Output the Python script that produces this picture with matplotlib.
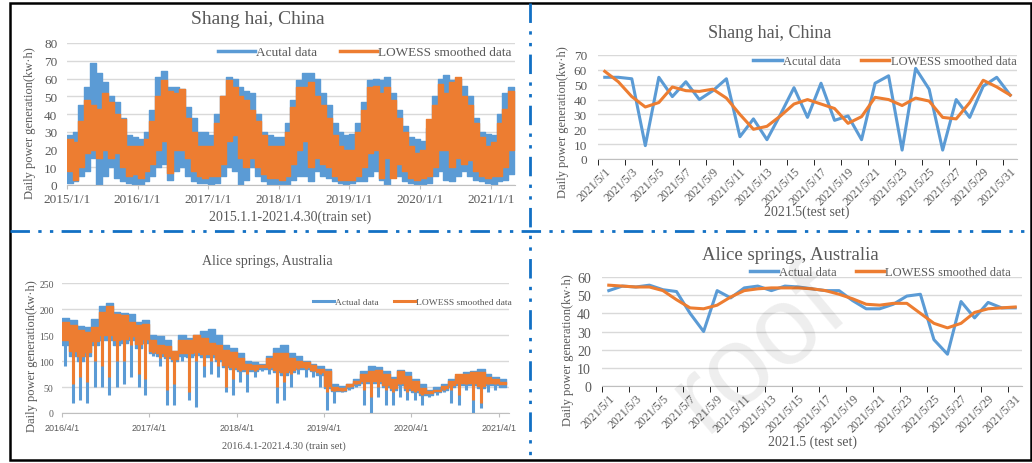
import numpy as np
import pandas as pd
import matplotlib
matplotlib.use('Agg')
import matplotlib.pyplot as plt
import matplotlib.dates as mdates
from matplotlib.lines import Line2D
from matplotlib.patches import Rectangle

W, H = 1032, 464
BLUE = '#5b9bd5'
ORANGE = '#ed7d31'
GRAY = '#595959'
GRID = '#d9d9d9'
SEP = '#1270c4'

# ---- Shanghai train set, monthly high / low (Jan 2015 - Apr 2021)
sh_blue_high = [28, 30, 45, 55, 69, 63, 58, 50, 47, 38, 28, 27,
                26, 30, 42, 61, 64, 55, 55, 54, 44, 38, 30, 30,
                28, 40, 50, 61, 60, 55, 53, 52, 40, 30, 28, 27,
                27, 35, 48, 59, 63, 63, 60, 52, 45, 35, 30, 28,
                29, 35, 47, 59, 60, 59, 61, 52, 42, 33, 27, 26,
                25, 32, 50, 60, 62, 59, 60, 56, 50, 38, 30, 29,
                28, 40, 52, 55]
sh_blue_low = [1, 2, 5, 8, 15, 0, 5, 10, 4, 2, 1, 0,
               0, 2, 5, 10, 12, 3, 8, 10, 5, 2, 1, 1,
               0, 1, 5, 10, 8, 0, 3, 10, 5, 2, 0, 0,
               0, 0, 3, 5, 5, 2, 8, 5, 4, 2, 1, 0,
               1, 2, 2, 5, 8, 3, 0, 5, 5, 2, 1, 0,
               0, 1, 5, 8, 3, 2, 5, 8, 5, 3, 2, 1,
               0, 2, 3, 6]
sh_orange_high = [26, 24, 36, 48, 45, 43, 52, 47, 40, 37, 22, 22,
                  22, 26, 36, 50, 59, 53, 52, 54, 38, 30, 22, 22,
                  22, 35, 50, 59, 55, 50, 48, 42, 36, 28, 22, 22,
                  22, 30, 44, 55, 55, 58, 50, 45, 38, 28, 22, 20,
                  20, 30, 42, 55, 56, 52, 55, 48, 38, 30, 22, 18,
                  20, 37, 45, 57, 52, 58, 61, 50, 45, 35, 27, 22,
                  24, 35, 43, 53]
sh_orange_low = [8, 3, 10, 18, 20, 15, 20, 15, 18, 10, 5, 6,
                 4, 8, 12, 20, 25, 7, 20, 20, 15, 8, 5, 4,
                 5, 5, 12, 25, 28, 15, 10, 15, 10, 6, 4, 4,
                 3, 5, 12, 20, 25, 10, 15, 12, 10, 5, 3, 3,
                 3, 5, 10, 18, 20, 4, 15, 4, 12, 8, 4, 3,
                 4, 5, 10, 20, 20, 10, 15, 12, 14, 8, 5, 4,
                 5, 5, 10, 20]

# ---- Alice Springs train set, monthly values (Apr 2016 - Apr 2021)
# high = top of band, floor = usual bottom of band, low = deepest dip of the month
as_blue_high = [182, 178, 168, 165, 180, 205, 212, 195, 192,
                190, 175, 178, 150, 148, 140, 120, 150, 145, 150, 158, 162,
                150, 130, 125, 115, 100, 98, 95, 110, 125, 130, 115, 110,
                100, 95, 90, 85, 55, 52, 55, 65, 80, 90, 88, 80,
                70, 82, 78, 65, 55, 45, 50, 55, 65, 72, 78, 80,
                85, 75, 70, 65]
as_blue_floor = [130, 110, 100, 110, 130, 140, 140, 130, 135,
                 140, 125, 135, 115, 110, 105, 100, 110, 108, 112, 108, 108,
                 100, 88, 84, 80, 80, 80, 84, 84, 78, 74, 78, 84,
                 84, 80, 74, 48, 42, 42, 48, 54, 58, 58, 58, 50,
                 44, 54, 44, 40, 34, 34, 40, 44, 50, 54, 54, 54,
                 48, 54, 54, 50]
as_blue_low = [90, 20, 25, 20, 50, 50, 35, 50, 55,
               70, 50, 35, 110, 90, 15, 15, 100, 25, 12, 70, 75,
               70, 40, 35, 60, 40, 70, 80, 75, 20, 25, 50, 75,
               70, 70, 50, 5, 20, 40, 45, 50, 15, 0, 30, 15,
               15, 30, 25, 25, 15, 30, 35, 40, 20, 15, 45, 0,
               10, 40, 45, 50]
as_orange_high = [175, 170, 160, 155, 165, 195, 205, 190, 188,
                  175, 170, 172, 140, 130, 128, 120, 140, 140, 150, 145, 135,
                  130, 122, 118, 105, 95, 92, 92, 105, 115, 115, 105, 100,
                  98, 92, 85, 80, 50, 48, 55, 62, 75, 80, 82, 75,
                  65, 80, 72, 62, 48, 42, 45, 52, 62, 75, 75, 78,
                  78, 70, 65, 60]
as_orange_floor = [140, 120, 110, 118, 138, 150, 150, 140, 142,
                   148, 132, 142, 120, 115, 110, 104, 116, 115, 118, 114, 114,
                   104, 92, 88, 84, 84, 84, 88, 88, 82, 78, 82, 88,
                   88, 82, 78, 52, 45, 45, 52, 58, 62, 62, 62, 54,
                   48, 58, 48, 44, 38, 38, 42, 48, 54, 58, 58, 58,
                   52, 58, 58, 55]
as_orange_low = [140, 55, 70, 60, 100, 90, 70, 100, 100,
                 130, 75, 65, 115, 105, 45, 55, 115, 40, 100, 90, 100,
                 90, 50, 65, 80, 75, 80, 88, 85, 50, 60, 75, 85,
                 85, 80, 75, 40, 42, 42, 50, 55, 45, 30, 50, 45,
                 40, 55, 40, 40, 35, 38, 42, 45, 45, 35, 55, 25,
                 20, 55, 55, 55]

# ---- May 2021 test set
test_labels = ['2021/5/%d' % d for d in range(1, 32, 2)]
sh_test_actual = [55, 55, 54, 9, 55, 42, 52, 40, 46, 54, 15, 27, 13, 30, 48, 28,
                  51, 26, 29, 13, 51, 56, 6, 61, 47, 6, 40, 28, 49, 55, 43]
sh_test_lowess = [59, 52, 42, 35, 38, 48.5, 46, 45.5, 47, 41, 30, 20, 22, 29, 37, 40,
                  37, 34, 24, 28.5, 41.5, 40, 36, 41, 39, 28, 27, 38, 53, 48.5, 43]
as_test_actual = [52.5, 55, 54.5, 55.5, 53, 52, 40, 30, 52.5, 48.5, 54, 55, 52.5, 55, 54.5, 53.5,
                  52.5, 52.5, 47, 42.5, 42.5, 45, 49.5, 50.5, 25.5, 17.5, 46.5, 37.5, 46, 43, 43]
as_test_lowess = [55.5, 55, 54.5, 54.5, 52.5, 47.5, 43, 42.5, 44.5, 49, 52.5, 53.5, 54, 54, 54, 53.5,
                  52.5, 50.5, 48, 45, 44.5, 45.5, 45.5, 40, 34.5, 32, 34.5, 40.5, 42.5, 43, 43.5]

plt.rcParams['font.family'] = 'Liberation Serif'
fig = plt.figure(figsize=(W / 100, H / 100), dpi=100)


def px_axes(x0, y0, x1, y1):
    return fig.add_axes([x0 / W, 1 - y1 / H, (x1 - x0) / W, (y1 - y0) / H])


def style_axes(ax, ymax, ystep, yfs, ypad):
    ax.set_ylim(0, ymax)
    ax.set_yticks(np.arange(0, ymax + 1, ystep))
    ax.grid(axis='y', color=GRID, lw=1)
    ax.set_axisbelow(True)
    for s in ['top', 'right', 'left']:
        ax.spines[s].set_visible(False)
    ax.spines['bottom'].set_color('#bfbfbf')
    ax.tick_params(axis='y', length=0, pad=ypad, labelsize=yfs, labelcolor=GRAY)
    ax.tick_params(axis='x', colors='#bfbfbf', labelcolor=GRAY)


def band(ax, start, lows, highs, color):
    # monthly band drawn as steps, closed at the start of the following month
    edges = pd.date_range(start, periods=len(highs) + 1, freq='MS')
    lo = np.append(lows, lows[-1])
    hi = np.append(highs, highs[-1])
    ax.fill_between(edges, lo, hi, step='post', color=color, lw=1.0, edgecolor=color)


def dips(ax, start, floors, lows, color, lw):
    mids = pd.date_range(start, periods=len(lows), freq='MS') + pd.Timedelta(days=14)
    ax.vlines(mids, lows, floors, color=color, lw=lw)


def add_legend(labels, x, y, fs, hl, cs, lw, ax):
    handles = [Line2D([], [], color=BLUE, lw=lw), Line2D([], [], color=ORANGE, lw=lw)]
    ax.legend(handles, labels, ncol=2, loc='center left', bbox_to_anchor=(x / W, 1 - y / H),
              bbox_transform=fig.transFigure, frameon=False, fontsize=fs, handlelength=hl,
              handletextpad=0.1, columnspacing=cs, borderpad=0, borderaxespad=0,
              labelcolor=GRAY)


def ftext(x, y, s, size, **kw):
    fig.text(x / W, 1 - y / H, s, size=size, color=GRAY, ha='center', va='center', **kw)


# ---------------- top left: Shanghai train
ax1 = px_axes(67, 44, 515, 186)
style_axes(ax1, 80, 10, 9.5, 7)
band(ax1, '2015-01-01', sh_blue_low, sh_blue_high, BLUE)
band(ax1, '2015-01-01', sh_orange_low, sh_orange_high, ORANGE)
ax1.set_xlim(pd.Timestamp('2015-01-01'), pd.Timestamp('2021-05-06'))
ax1.set_xticks(pd.date_range('2015-01-01', '2021-01-01', freq='YS'))
ax1.xaxis.set_major_formatter(mdates.DateFormatter('%Y/%-m/%-d'))
ax1.tick_params(axis='x', length=3, pad=3, labelsize=9.5)
add_legend(['Acutal data', 'LOWESS smoothed data'], 218, 53, 9.5, 2.8, 1.7, 2.5, ax1)
ftext(258, 20, 'Shang hai, China', 14)
ftext(290, 217, '2015.1.1-2021.4.30(train set)', 10)
ftext(30, 123, 'Daily power generation(kw·h)', 9, rotation=90)

# ---------------- top right: Shanghai test
days = np.arange(31)
ax2 = px_axes(598, 56, 1017, 160)
style_axes(ax2, 70, 10, 9.5, 8)
ax2.plot(days, sh_test_actual, color=BLUE, lw=2.2)
ax2.plot(days, sh_test_lowess, color=ORANGE, lw=2.2)
ax2.set_xlim(-0.5, 30.5)
ax2.set_xticks(days[::2])
ax2.set_xticklabels(test_labels, rotation=45, ha='right', va='top', rotation_mode='anchor')
ax2.set_xticks(np.arange(-0.5, 31, 2), minor=True)
ax2.tick_params(axis='x', which='major', length=0, pad=4, labelsize=8.5)
ax2.tick_params(axis='x', which='minor', length=4)
add_legend(['Acutal data', 'LOWESS smoothed data'], 753, 62, 9, 2.3, 1.6, 2.5, ax2)
ftext(770, 33, 'Shang hai, China', 13)
ftext(807, 212, '2021.5(test set)', 10)
ftext(563, 122, 'Daily power generation(kw·h)', 9, rotation=90)

# ---------------- bottom left: Alice Springs train
ax3 = px_axes(62, 284, 509, 414)
style_axes(ax3, 250, 50, 7, 6)
band(ax3, '2016-04-01', as_blue_floor, as_blue_high, BLUE)
dips(ax3, '2016-04-01', as_blue_floor, as_blue_low, BLUE, 2.2)
band(ax3, '2016-04-01', as_orange_floor, as_orange_high, ORANGE)
dips(ax3, '2016-04-01', as_orange_floor, as_orange_low, ORANGE, 2.2)
ax3.set_xlim(pd.Timestamp('2016-04-01'), pd.Timestamp('2021-05-14'))
ax3.set_xticks(pd.date_range('2016-04-01', '2021-04-01', freq='12MS'))
ax3.xaxis.set_major_formatter(mdates.DateFormatter('%Y/%-m/%-d'))
ax3.tick_params(axis='x', length=3, pad=4, labelsize=6.5)
for lab in ax3.get_xticklabels():
    lab.set_family('Liberation Sans')
add_legend(['Actual data', 'LOWESS smoothed data'], 313, 303, 6.8, 2.2, 1.7, 2.2, ax3)
ftext(267, 262, 'Alice springs, Australia', 10)
ftext(284, 446, '2016.4.1-2021.4.30 (train set)', 7.5)
ftext(32, 356, 'Daily power generation(kw·h)', 9, rotation=90)

# ---------------- bottom right: Alice Springs test
ax4 = px_axes(602, 278, 1022, 387)
style_axes(ax4, 60, 10, 10, 8)
ax4.plot(days, as_test_actual, color=BLUE, lw=2.2)
ax4.plot(days, as_test_lowess, color=ORANGE, lw=2.2)
ax4.set_xlim(-0.5, 30.5)
ax4.set_xticks(days[::2])
ax4.set_xticklabels(test_labels, rotation=45, ha='right', va='top', rotation_mode='anchor')
ax4.set_xticks(np.arange(-0.5, 31, 2), minor=True)
ax4.tick_params(axis='x', which='major', length=0, pad=4, labelsize=8.5)
ax4.tick_params(axis='x', which='minor', length=4)
add_legend(['Actual data', 'LOWESS smoothed data'], 750, 273, 9, 2.2, 1.6, 2.5, ax4)
ftext(790, 256, 'Alice springs, Australia', 13.5)
ftext(812, 442, '2021.5 (test set)', 10)
ftext(568, 350, 'Daily power generation(kw·h)', 9, rotation=90)

# watermark
fig.text(760 / W, 1 - 350 / H, 'roof', size=80, color='black', alpha=0.07,
         rotation=40, ha='center', va='center', family='Liberation Sans')

# frame and separators
fig.add_artist(Rectangle((10 / W, 1 - 461 / H), 1021 / W, 457 / H, transform=fig.transFigure,
                         fill=False, ec='black', lw=1.8))
sep_style = (0, (7, 3, 1.2, 3, 1.2, 3))
fig.add_artist(Line2D([530 / W, 530 / W], [1 - 4 / H, 1 - 461 / H], transform=fig.transFigure,
                      color=SEP, lw=2, linestyle=sep_style))
fig.add_artist(Line2D([10 / W, 1031 / W], [1 - 232 / H, 1 - 232 / H], transform=fig.transFigure,
                      color=SEP, lw=2, linestyle=sep_style))

fig.savefig('out.png', dpi=100)
